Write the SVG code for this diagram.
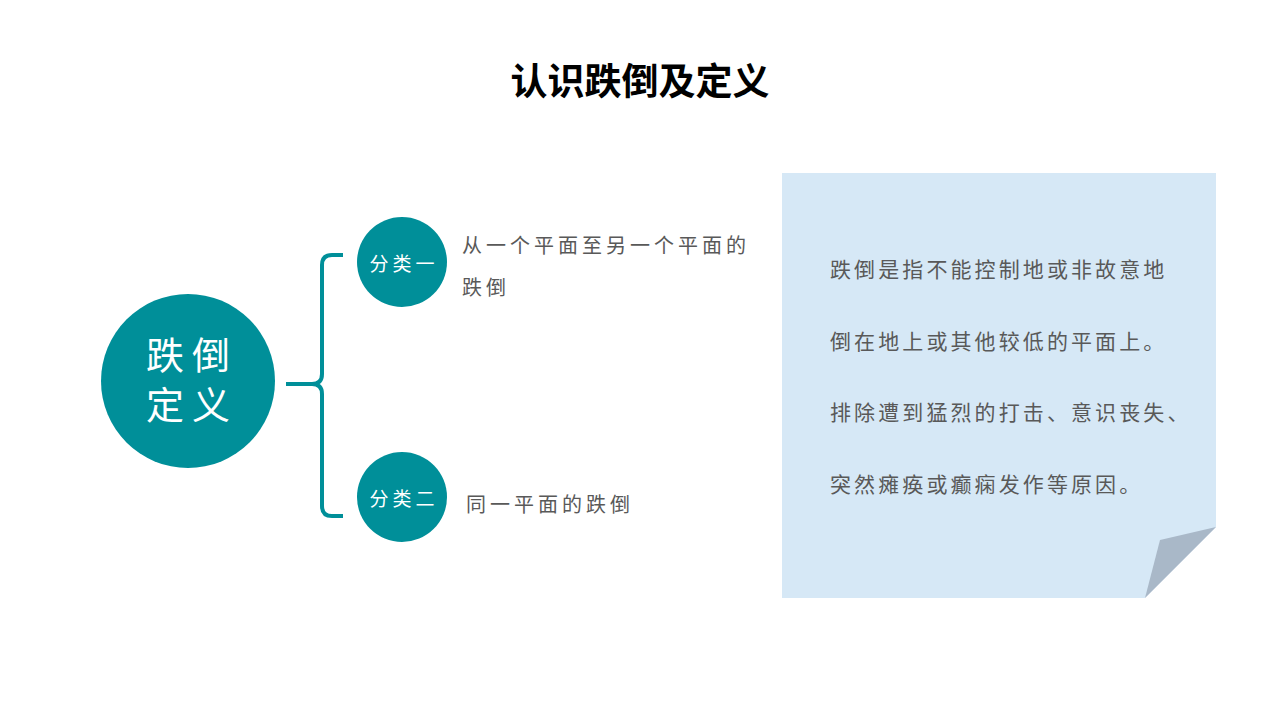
<svg xmlns="http://www.w3.org/2000/svg" width="1280" height="720" viewBox="0 0 1280 720">
<style>
.cjk{font-family:"Noto Sans CJK SC","Noto Sans",sans-serif}
.title{font-size:37px;font-weight:bold;fill:#000}
.wh{fill:#fff}
.gr{fill:#595959;font-size:20px;letter-spacing:4px}
.nt{fill:#595959;font-size:21px;letter-spacing:3.1px}
.teal{fill:#008f99}
</style>
<rect width="1280" height="720" fill="#fff"/>
<text class="cjk title" x="640" y="95" text-anchor="middle">认识跌倒及定义</text>
<g id="connectors">
<path d="M286 384 H312 Q322 384 322 374 V265 Q322 255 332 255 H343 M322 394 V506 Q322 516 332 516 H343 M312 384 Q322 384 322 394" fill="none" stroke="#008f99" stroke-width="4"/>
</g>
<g id="main">
<circle class="teal" cx="188" cy="381" r="87"/>
<text class="cjk wh" x="192" y="369" text-anchor="middle" font-size="38" letter-spacing="8">跌倒</text>
<text class="cjk wh" x="192" y="419" text-anchor="middle" font-size="38" letter-spacing="8">定义</text>
</g>
<g id="cat1">
<circle class="teal" cx="402" cy="262" r="45"/>
<text class="cjk wh" x="404" y="271" text-anchor="middle" font-size="19" letter-spacing="4">分类一</text>
<text class="cjk gr" x="462" y="253">从一个平面至另一个平面的</text>
<text class="cjk gr" x="462" y="295">跌倒</text>
</g>
<g id="cat2">
<circle class="teal" cx="402" cy="497" r="45"/>
<text class="cjk wh" x="404" y="506" text-anchor="middle" font-size="19" letter-spacing="4">分类二</text>
<text class="cjk gr" x="466" y="512">同一平面的跌倒</text>
</g>
<g id="note">
<polygon points="782,173 1216,173 1216,527 1145,598 782,598" fill="#d6e8f6"/>
<polygon points="1216,527 1160,540 1145,598" fill="#a9b8c8"/>
<text class="cjk nt" x="830" y="277">跌倒是指不能控制地或非故意地</text>
<text class="cjk nt" x="830" y="349">倒在地上或其他较低的平面上。</text>
<text class="cjk nt" x="830" y="420">排除遭到猛烈的打击、意识丧失、</text>
<text class="cjk nt" x="830" y="492">突然瘫痪或癫痫发作等原因。</text>
</g>
</svg>
